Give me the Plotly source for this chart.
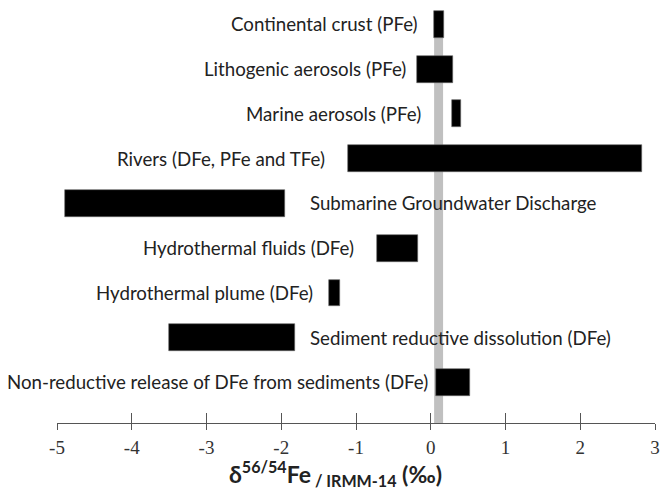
import plotly.graph_objects as go

# ---- data (per mil) ----
sources = [
    "Non-reductive release of DFe from sediments (DFe)",
    "Sediment reductive dissolution (DFe)",
    "Hydrothermal plume (DFe)",
    "Hydrothermal fluids (DFe)",
    "Submarine Groundwater Discharge",
    "Rivers (DFe, PFe and TFe)",
    "Marine aerosols (PFe)",
    "Lithogenic aerosols (PFe)",
    "Continental crust (PFe)",
]
range_min = [0.07, -3.50, -1.36, -0.72, -4.89, -1.11, 0.28, -0.19, 0.04]
range_max = [0.52, -1.82, -1.22, -0.17, -1.95, 2.82, 0.41, 0.30, 0.18]
label_side = ["left", "right", "left", "left", "right", "left", "left", "left", "left"]
band_min, band_max = 0.045, 0.165
x_ticks = [-5, -4, -3, -2, -1, 0, 1, 2, 3]
x_tick_labels = ["-5", "-4", "-3", "-2", "-1", "0", "1", "2", "3"]

# ---- styling ----
label_gap = [6, 13, 14, 21, 23, 21, 29, 9, 14]
ypos = list(range(len(sources)))

fig = go.Figure()
fig.add_trace(go.Bar(
    y=ypos,
    x=[b - a for a, b in zip(range_min, range_max)],
    base=range_min,
    orientation="h",
    width=0.6,
    marker=dict(color="black", line=dict(color="#666666", width=0.6)),
    hoverinfo="skip",
    showlegend=False,
))
# invisible trace for secondary (outside-tick) axis
fig.add_trace(go.Scatter(x=[-5, 3], y=[0, 0], xaxis="x2", mode="markers",
                         marker=dict(opacity=0), hoverinfo="skip", showlegend=False))

fig.add_shape(type="rect", xref="x", yref="y", x0=band_min, x1=band_max,
              y0=-0.905, y1=8.3, fillcolor="#c0c0c0", line=dict(width=0), layer="below")

label_font = dict(family="Lato", size=18.7, color="#222222")
for i, name in enumerate(sources):
    if label_side[i] == "left":
        fig.add_annotation(x=range_min[i], y=ypos[i], text=name, showarrow=False,
                           xanchor="right", yanchor="middle", xshift=-label_gap[i],
                           font=label_font)
    else:
        fig.add_annotation(x=range_max[i], y=ypos[i], text=name, showarrow=False,
                           xanchor="left", yanchor="middle", xshift=label_gap[i],
                           font=label_font)

fig.add_annotation(
    xref="paper", yref="paper", x=0.465, y=-0.121,
    text="<b>δ<sup>56/54</sup>Fe<sub> / IRMM-14</sub> (‰)</b>",
    showarrow=False, xanchor="center", yanchor="middle",
    font=dict(family="Lato", size=23, color="#222222"),
)

fig.update_layout(
    width=661, height=491,
    margin=dict(l=57, r=6, t=2, b=68),
    plot_bgcolor="white", paper_bgcolor="white",
    bargap=0,
    xaxis=dict(range=[-5, 3], tickvals=x_ticks, ticktext=x_tick_labels,
               ticks="inside", ticklen=10,
               tickcolor="#555555", tickwidth=1, showline=True, linecolor="#555555",
               linewidth=1.3, showgrid=False, zeroline=False,
               tickfont=dict(family="Liberation Serif", size=19, color="#333333"),
               ticklabelstandoff=7),
    xaxis2=dict(range=[-5, 3], overlaying="x", anchor="y", side="bottom",
                tickvals=x_ticks, ticks="outside", ticklen=6, tickcolor="#555555",
                tickwidth=1, showticklabels=False, showgrid=False, zeroline=False,
                showline=False),
    yaxis=dict(range=[-0.905, 8.5], visible=False, showgrid=False, zeroline=False),
)

fig.write_html("out.html", config={"displayModeBar": False},
               post_script="document.body.style.margin='0px';")
